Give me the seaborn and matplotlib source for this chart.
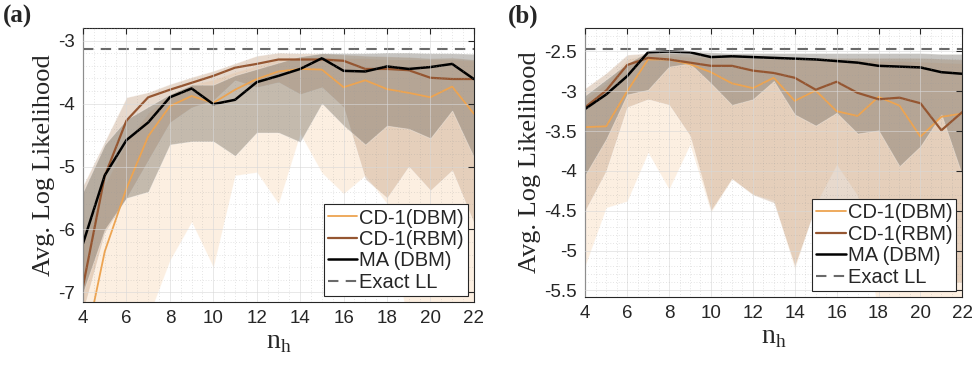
import numpy as np
import pandas as pd
import matplotlib
matplotlib.use("Agg")
import matplotlib.pyplot as plt
from matplotlib.ticker import MultipleLocator
import seaborn as sns

# ── Data ───────────────────────────────────────────────────────────────────────
nh = list(range(4, 23))

# panel (a)
dbm_a    = [-8.0, -6.35, -5.35, -4.52, -4.04, -3.88, -3.99, -3.78, -3.61, -3.49,
            -3.45, -3.46, -3.74, -3.63, -3.77, -3.83, -3.90, -3.73, -4.16]
rbm_a    = [-6.9, -5.15, -4.27, -3.90, -3.78, -3.67, -3.56, -3.43, -3.37, -3.30,
            -3.30, -3.30, -3.32, -3.45, -3.45, -3.47, -3.59, -3.61, -3.61]
ma_a     = [-6.22, -5.14, -4.58, -4.30, -3.90, -3.76, -4.01, -3.94, -3.66, -3.56,
            -3.45, -3.28, -3.48, -3.49, -3.41, -3.45, -3.42, -3.37, -3.61]
dbm_hi_a = [-6.2, -5.3, -4.6, -4.15, -3.85, -3.70, -3.62, -3.50, -3.40, -3.30,
            -3.26, -3.26, -3.28, -3.28, -3.30, -3.30, -3.30, -3.30, -3.32]
dbm_lo_a = [-9.0, -9.0, -9.0, -7.4, -6.49, -5.88, -6.60, -5.14, -5.09, -5.59,
            -4.48, -5.10, -5.43, -5.14, -5.59, -7.6, -7.6, -7.6, -7.6]
rbm_hi_a = [-5.3, -4.6, -3.9, -3.82, -3.69, -3.58, -3.48, -3.36, -3.24, -3.19,
            -3.20, -3.20, -3.22, -3.24, -3.25, -3.26, -3.28, -3.27, -3.30]
rbm_lo_a = [-7.3, -6.05, -5.5, -4.9, -4.30, -4.06, -3.95, -3.63, -3.74, -3.66,
            -3.85, -3.74, -4.06, -5.2, -5.5, -5.0, -5.38, -5.06, -5.9]
ma_hi_a  = [-5.4, -4.65, -4.25, -4.05, -3.85, -3.70, -3.70, -3.55, -3.45, -3.35,
            -3.25, -3.20, -3.20, -3.20, -3.19, -3.19, -3.20, -3.20, -3.21]
ma_lo_a  = [-7.0, -6.0, -5.5, -5.4, -4.65, -4.60, -4.60, -4.83, -4.46, -4.46,
            -4.61, -4.00, -4.35, -4.65, -4.35, -4.40, -4.55, -4.11, -4.85]
exact_a  = -3.13

# panel (b)
dbm_b    = [-3.45, -3.44, -3.00, -2.60, -2.60, -2.66, -2.76, -2.90, -2.96, -2.83,
            -3.12, -2.99, -3.25, -3.31, -3.07, -3.18, -3.57, -3.32, -3.28]
rbm_b    = [-3.20, -2.99, -2.67, -2.58, -2.60, -2.64, -2.68, -2.68, -2.74, -2.77,
            -2.83, -2.98, -2.88, -3.02, -3.10, -3.08, -3.15, -3.49, -3.26]
ma_b     = [-3.22, -3.04, -2.81, -2.51, -2.50, -2.51, -2.57, -2.56, -2.57, -2.58,
            -2.59, -2.60, -2.62, -2.64, -2.68, -2.69, -2.70, -2.76, -2.78]
dbm_hi_b = [-3.10, -2.90, -2.60, -2.53, -2.55, -2.57, -2.58, -2.58, -2.59, -2.59,
            -2.60, -2.60, -2.61, -2.61, -2.62, -2.62, -2.63, -2.64, -2.65]
dbm_lo_b = [-5.19, -4.46, -4.38, -3.77, -4.23, -3.67, -4.52, -4.10, -4.29, -4.37,
            -5.23, -4.42, -3.92, -4.31, -5.8, -5.8, -5.8, -5.8, -5.8]
rbm_hi_b = [-2.96, -2.77, -2.54, -2.52, -2.52, -2.53, -2.55, -2.56, -2.57, -2.57,
            -2.58, -2.58, -2.58, -2.58, -2.58, -2.58, -2.58, -2.59, -2.60]
rbm_lo_b = [-4.5, -4.0, -3.2, -3.1, -3.17, -3.56, -4.5, -4.1, -4.3, -4.4,
            -5.2, -4.45, -4.5, -4.8, -5.0, -5.2, -5.3, -5.4, -5.4]
ma_hi_b  = [-3.05, -2.85, -2.65, -2.50, -2.49, -2.50, -2.51, -2.52, -2.52, -2.52,
            -2.52, -2.52, -2.52, -2.52, -2.52, -2.52, -2.52, -2.53, -2.53]
ma_lo_b  = [-4.05, -3.60, -3.04, -2.98, -2.69, -2.65, -2.90, -3.17, -3.10, -2.87,
            -3.29, -3.43, -3.27, -3.53, -3.49, -3.94, -3.69, -3.29, -4.06]
exact_b  = -2.47

# ── Style ──────────────────────────────────────────────────────────────────────
sns.set_style("white")
plt.rcParams["font.family"] = ["Liberation Sans", "DejaVu Sans"]
plt.rcParams["xtick.direction"] = "in"
plt.rcParams["ytick.direction"] = "in"

C_DBM, C_RBM, C_MA = "#eda451", "#955631", "#000000"
F_DBM, F_RBM, F_MA = "#f8cd9e", "#c3a082", "#5c584e"
SERIF = ["Liberation Serif", "DejaVu Serif"]


def draw_panel(ax, dbm, rbm, ma, bands, exact, ylim, yticks, yminor, tag):
    (dhi, dlo), (rhi, rlo), (mhi, mlo) = bands
    ax.fill_between(nh, dlo, dhi, color=F_DBM, alpha=0.3, lw=0.6, edgecolor="white")
    ax.fill_between(nh, rlo, rhi, color=F_RBM, alpha=0.4, lw=0.6, edgecolor="white")
    ax.fill_between(nh, mlo, mhi, color=F_MA, alpha=0.35, lw=0.6, edgecolor="white")

    df = pd.DataFrame({"nh": nh, "dbm": dbm, "rbm": rbm, "ma": ma})
    sns.lineplot(data=df, x="nh", y="dbm", ax=ax, color=C_DBM, lw=1.3, label="CD-1(DBM)")
    sns.lineplot(data=df, x="nh", y="rbm", ax=ax, color=C_RBM, lw=1.6, label="CD-1(RBM)")
    sns.lineplot(data=df, x="nh", y="ma", ax=ax, color=C_MA, lw=1.8, label="MA (DBM)")
    ax.axhline(exact, color="#6a6a6a", lw=1.5, ls=(0, (5, 3.5)), label="Exact LL")

    ax.set_xlim(4, 22)
    ax.set_ylim(*ylim)
    ax.set_xticks(range(4, 23, 2))
    ax.set_yticks(yticks)
    ax.set_yticklabels([f"{t:g}" for t in yticks])
    ax.xaxis.set_minor_locator(MultipleLocator(0.5))
    ax.yaxis.set_minor_locator(MultipleLocator(yminor))
    ax.grid(True, which="major", color="#d8d8d8", lw=0.7, alpha=0.6)
    ax.grid(True, which="minor", color="#9a9a9a", lw=0.5, ls=(0, (1, 3)), alpha=0.5)
    ax.set_axisbelow(False)
    ax.tick_params(which="major", labelsize=13.5, length=4, top=True, right=True, pad=6)
    ax.tick_params(which="minor", length=0)
    for s in ax.spines.values():
        s.set_color("#262626")
        s.set_linewidth(0.8)

    ax.set_xlabel("n$_\\mathregular{h}$", family=SERIF, fontsize=20, labelpad=2)
    ax.set_ylabel("Avg. Log Likelihood", family=SERIF, fontsize=19, labelpad=2)
    ax.text(-0.205, 1.0, tag, transform=ax.transAxes, family=SERIF, fontsize=18,
            fontweight="bold", ha="left", va="bottom")

    leg = ax.legend(loc="lower right", fontsize=14.5, frameon=True, fancybox=False,
                    framealpha=1, edgecolor="#262626", handlelength=1.45,
                    handletextpad=0.1, labelspacing=0.12, borderpad=0.2,
                    borderaxespad=0.3)
    leg.get_frame().set_linewidth(0.8)


fig = plt.figure(figsize=(9.77, 3.69), dpi=100)
ax_a = fig.add_axes([0.085, 0.182, 0.400, 0.742])
ax_b = fig.add_axes([0.599, 0.196, 0.386, 0.727])

draw_panel(ax_a, dbm_a, rbm_a, ma_a,
           [(dbm_hi_a, dbm_lo_a), (rbm_hi_a, rbm_lo_a), (ma_hi_a, ma_lo_a)],
           exact_a, (-7.15, -2.8), [-7, -6, -5, -4, -3], 0.2, "(a)")
draw_panel(ax_b, dbm_b, rbm_b, ma_b,
           [(dbm_hi_b, dbm_lo_b), (rbm_hi_b, rbm_lo_b), (ma_hi_b, ma_lo_b)],
           exact_b, (-5.58, -2.21), [-5.5, -5, -4.5, -4, -3.5, -3, -2.5], 0.1, "(b)")

fig.savefig("out.png", dpi=100)
plt.close(fig)
